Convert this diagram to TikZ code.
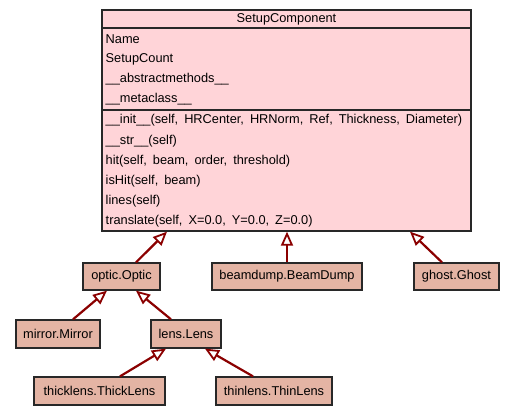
\documentclass[tikz,border=0pt]{standalone}
\usepackage{fontspec}
\setmainfont{Liberation Sans}
\usetikzlibrary{arrows.meta}
\definecolor{mainfill}{RGB}{255,212,216}
\definecolor{subfill}{RGB}{228,180,164}
\definecolor{edgecol}{RGB}{139,0,0}
\definecolor{bordercol}{RGB}{40,40,40}
\newcommand\widespaces{\spaceskip 6pt\relax}
\begin{document}
\begin{tikzpicture}[x=1pt,y=-1pt,
  txt/.style={inner sep=0pt, font=\fontsize{12.8}{14}\selectfont\widespaces, anchor=west},
  mainbox/.style={draw=bordercol, line width=1.3pt, fill=mainfill, inner sep=0pt},
  subbox/.style={draw=bordercol, line width=1.3pt, fill=subfill, inner sep=0pt, font=\fontsize{12.8}{14}\selectfont},
  inh/.style={draw=edgecol, line width=2.2pt, -{Triangle[length=14pt, width=12pt, fill=white, line width=1.8pt]}}]
\useasboundingbox[fill=white] (0,0) rectangle (515,416);
% main class box
\node[mainbox, minimum width=369pt, minimum height=221pt] (main) at (286.5,120.5) {};
\draw[bordercol, line width=1.1pt] (102,28) -- (471,28);
\draw[bordercol, line width=1.1pt] (102,110) -- (471,110);
\node[txt, anchor=center] (title) at (286.5,19) {SetupComponent};
\node[txt] (a1) at (105.5,39.5) {Name};
\node[txt] (a2) at (105.5,59.5) {SetupCount};
\node[txt] (a3) at (105.5,79.5) {\_\_abstractmethods\_\_};
\node[txt] (a4) at (105.5,99.5) {\_\_metaclass\_\_};
\node[txt] (m1) at (105.5,120.5) {\_\_init\_\_(self, HRCenter, HRNorm, Ref, Thickness, Diameter)};
\node[txt] (m2) at (105.5,140.7) {\_\_str\_\_(self)};
\node[txt] (m3) at (105.5,160.9) {hit(self, beam, order, threshold)};
\node[txt] (m4) at (105.5,181.1) {isHit(self, beam)};
\node[txt] (m5) at (105.5,201.3) {lines(self)};
\node[txt] (m6) at (105.5,221.5) {translate(self, X=0.0, Y=0.0, Z=0.0)};
% subclasses
\node[subbox, minimum width=77pt, minimum height=27pt] (optic) at (121.5,276.5) {optic.Optic};
\node[subbox, minimum width=150pt, minimum height=27pt] (beam) at (287,276.5) {beamdump.BeamDump};
\node[subbox, minimum width=85pt, minimum height=27pt] (ghost) at (456.5,276.5) {ghost.Ghost};
\node[subbox, minimum width=84pt, minimum height=28pt] (mirror) at (58,334) {mirror.Mirror};
\node[subbox, minimum width=70pt, minimum height=28pt] (lens) at (186,334) {lens.Lens};
\node[subbox, minimum width=131pt, minimum height=28pt] (thick) at (99.5,391) {thicklens.ThickLens};
\node[subbox, minimum width=116pt, minimum height=28pt] (thin) at (274,391) {thinlens.ThinLens};
% inheritance edges
\draw[inh] ([xshift=14.5pt]optic.north) -- ([xshift=-119.5pt]main.south);
\draw[inh] ([xshift=0pt]beam.north) -- ([xshift=0.5pt]main.south);
\draw[inh] ([xshift=-14.5pt]ghost.north) -- ([xshift=123.5pt]main.south);
\draw[inh] ([xshift=15pt]mirror.north) -- ([xshift=-14.5pt]optic.south);
\draw[inh] ([xshift=-15pt]lens.north) -- ([xshift=14.5pt]optic.south);
\draw[inh] ([xshift=20.5pt]thick.north) -- ([xshift=-20pt]lens.south);
\draw[inh] ([xshift=-21pt]thin.north) -- ([xshift=19pt]lens.south);
\end{tikzpicture}
\end{document}
